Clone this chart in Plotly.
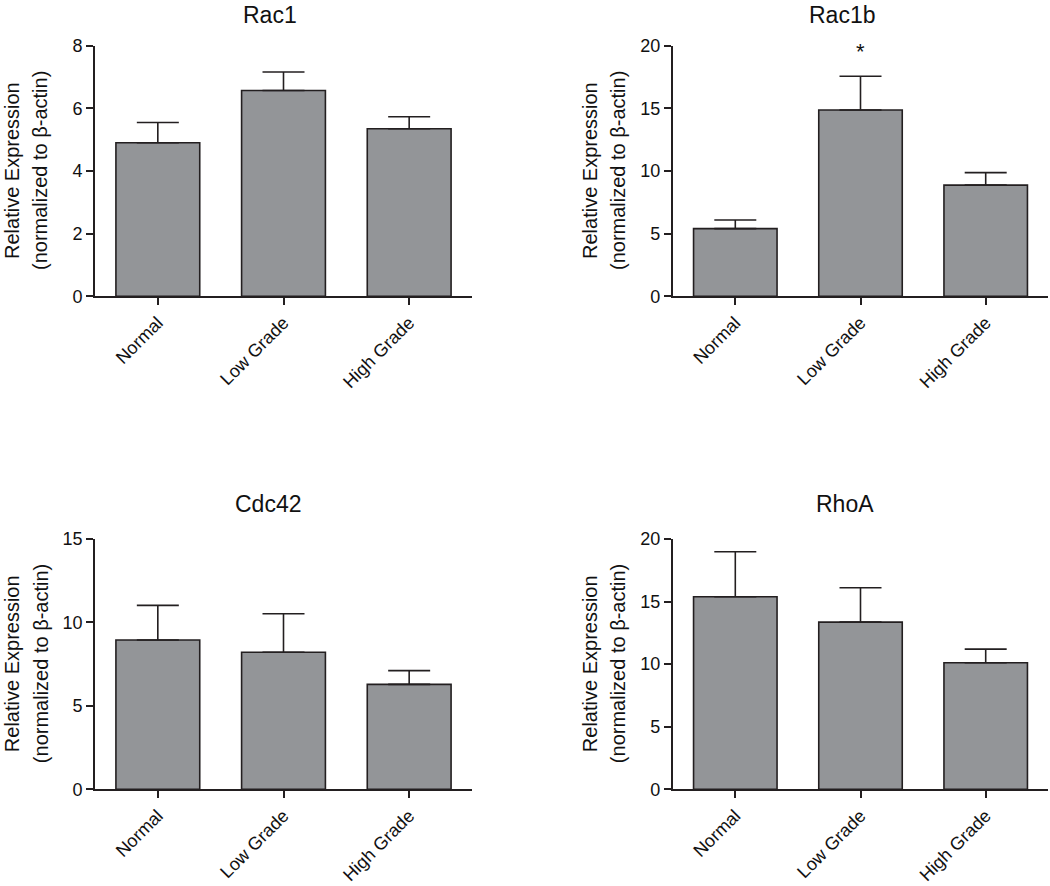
import plotly.graph_objects as go

W, H = 1050, 886

categories = ["Normal", "Low Grade", "High Grade"]
panel_titles = ["Rac1", "Rac1b", "Cdc42", "RhoA"]

rac1_mean = [4.9, 6.57, 5.35]
rac1_sem = [0.65, 0.59, 0.38]
rac1b_mean = [5.4, 14.87, 8.87]
rac1b_sem = [0.69, 2.69, 1.0]
cdc42_mean = [8.95, 8.21, 6.29]
cdc42_sem = [2.07, 2.31, 0.82]
rhoa_mean = [15.39, 13.36, 10.11]
rhoa_sem = [3.59, 2.74, 1.09]

y_max = [8, 20, 15, 20]
y_dtick = [2, 5, 5, 5]
significance = [None, "Low Grade", None, None]

means = [rac1_mean, rac1b_mean, cdc42_mean, rhoa_mean]
sems = [rac1_sem, rac1b_sem, cdc42_sem, rhoa_sem]

FONT = "Arial, 'Liberation Sans', Helvetica, sans-serif"
DARK = "#231f20"
BAR = "#939598"

# pixel geometry of plot areas in the page (left, right, top, bottom)
boxes = [
    (95, 472, 45.7, 296.3),
    (672.7, 1048.3, 45.7, 296.3),
    (95, 472, 539, 789.3),
    (672.7, 1048.3, 539, 789.3),
]
title_pos = [(270, 15), (842, 15), (268, 504), (845, 504)]
ylab_x = [(12, 40), (590, 618), (12, 41), (590, 618)]


def px_x(p):
    return p / W


def px_y(p):
    return 1 - p / H


fig = go.Figure()
annotations = []
layout = {}
for i in range(4):
    sfx = "" if i == 0 else str(i + 1)
    xa, ya = "x" + sfx, "y" + sfx
    l, r, t, b = boxes[i]
    fig.add_trace(go.Bar(
        x=categories, y=means[i], xaxis=xa, yaxis=ya,
        width=0.667,
        marker=dict(color=BAR, line=dict(color=DARK, width=1.6)),
        error_y=dict(type="data", array=sems[i], arrayminus=[0, 0, 0],
                     symmetric=False, color=DARK, thickness=1.6, width=21),
        showlegend=False, hoverinfo="skip",
    ))
    layout["xaxis" + sfx] = dict(
        domain=[px_x(l), px_x(r)], anchor=ya, range=[-0.5, 2.5],
        showline=True, linecolor=DARK, linewidth=1.6,
        ticks="outside", ticklen=7, tickwidth=1.6, tickcolor=DARK,
        tickangle=-45, tickfont=dict(family=FONT, size=18, color="#111"),
        showgrid=False, zeroline=False, fixedrange=True, automargin=False,
    )
    layout["yaxis" + sfx] = dict(
        domain=[px_y(b), px_y(t)], anchor=xa, range=[0, y_max[i]],
        tickmode="linear", tick0=0, dtick=y_dtick[i],
        showline=True, linecolor=DARK, linewidth=1.6,
        ticks="outside", ticklen=7, tickwidth=1.6, tickcolor=DARK,
        tickfont=dict(family=FONT, size=18, color="#111"),
        showgrid=False, zeroline=False, fixedrange=True, automargin=False,
    )
    tx, ty = title_pos[i]
    annotations.append(dict(
        text=panel_titles[i], x=px_x(tx), y=px_y(ty), xref="paper", yref="paper",
        xanchor="center", yanchor="middle", showarrow=False,
        font=dict(family=FONT, size=23, color="#111"),
    ))
    yc = px_y((t + b) / 2)
    for txt, px in zip(["Relative Expression", "(normalized to β-actin)"], ylab_x[i]):
        annotations.append(dict(
            text=txt, x=px_x(px), y=yc, xref="paper", yref="paper",
            xanchor="center", yanchor="middle", textangle=-90, showarrow=False,
            font=dict(family=FONT, size=20, color="#111"),
        ))
    if significance[i] is not None:
        k = categories.index(significance[i])
        annotations.append(dict(
            text="*", x=significance[i], y=means[i][k] + sems[i][k],
            xref=xa, yref=ya, yshift=25, xanchor="center", yanchor="middle",
            showarrow=False, font=dict(family=FONT, size=22, color="#111"),
        ))

fig.update_layout(
    template="none",
    width=W, height=H,
    margin=dict(l=0, r=0, t=0, b=0, autoexpand=False),
    paper_bgcolor="white", plot_bgcolor="white",
    annotations=annotations,
    **layout,
)
fig.write_html(
    "out.html",
    config={"displayModeBar": False},
    post_script="document.body.style.margin='0';document.body.style.padding='0';",
)
